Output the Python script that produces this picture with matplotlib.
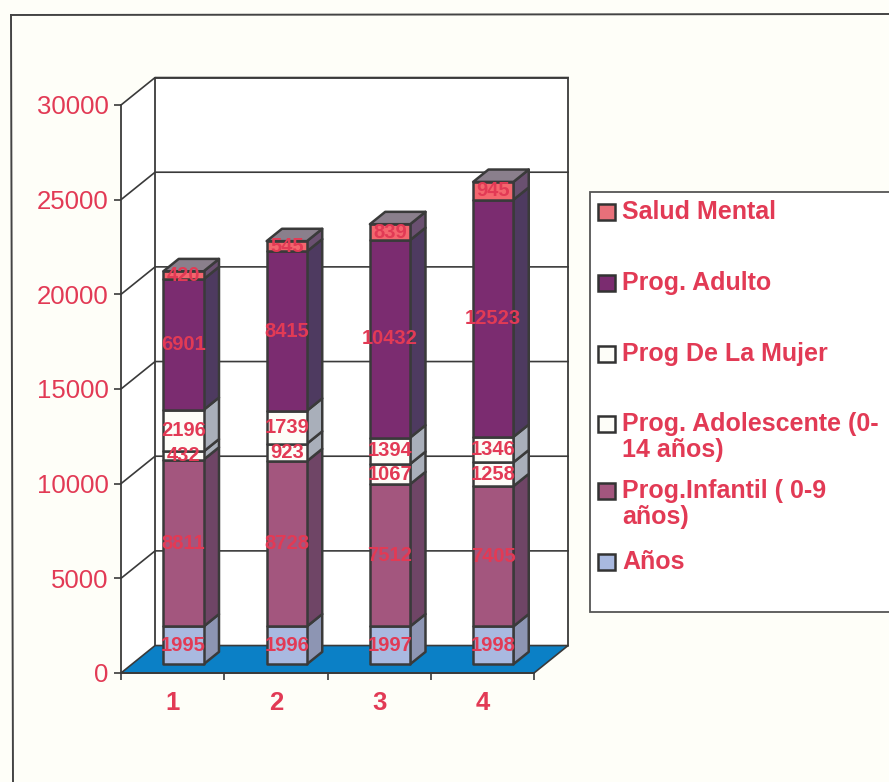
import matplotlib
matplotlib.use('Agg')
import matplotlib.pyplot as plt
from matplotlib.patches import Polygon, Rectangle

categories = ['1', '2', '3', '4']
anos = [1995, 1996, 1997, 1998]
infantil = [8811, 8728, 7512, 7405]
adolescente = [432, 923, 1067, 1258]
mujer = [2196, 1739, 1394, 1346]
adulto = [6901, 8415, 10432, 12523]
salud = [420, 545, 839, 945]
yticks = [0, 5000, 10000, 15000, 20000, 25000, 30000]

series = [anos, infantil, adolescente, mujer, adulto, salud]
front_colors = ['#a9b9e0', '#a3567e', '#fdfdf8', '#fdfdf8', '#7b2c70', '#f4666e']
side_colors = ['#8d95b3', '#6f4566', '#a9afba', '#a9afba', '#4e3a60', '#6a5070']
top_color = '#8a7f8c'
legend_labels = ['Salud Mental', 'Prog. Adulto', 'Prog De La Mujer',
                 'Prog. Adolescente (0-\n14 años)', 'Prog.Infantil ( 0-9\naños)', 'Años']
legend_colors = ['#e8707a', '#7b2c70', '#fdfdf8', '#fdfdf8', '#a3567e', '#a9b9e0']
legend_y = [212, 283, 354, 424, 491, 562]

RED = '#e23a55'
DARK = '#3a3a3a'
BG = '#fefef8'
# depth of the 3d box, in data units
DX = 0.33
DY = 1450
BAR_W = 0.39
BAR_D0 = 0.32
BAR_D1 = 0.77

plt.rcParams['font.family'] = ['Liberation Sans', 'DejaVu Sans']

fig = plt.figure(figsize=(8.89, 7.82), dpi=100, facecolor=BG)
ax = fig.add_axes([121/889, (782-673)/782, 413/889, 568/782], facecolor='none')
ax.set_xlim(0.5, 4.5)
ax.set_ylim(0, 30000)


def proj(x, y, d):
    return (x + d*DX, y + d*DY)


def quad(pts, fc, ec=DARK, lw=1.8, z=2):
    ax.add_patch(Polygon(pts, closed=True, facecolor=fc, edgecolor=ec, linewidth=lw,
                         zorder=z, clip_on=False, joinstyle='round'))


# walls and floor
quad([proj(0.5, 0, 0), proj(0.5, 0, 1), proj(0.5, 30000, 1), proj(0.5, 30000, 0)], '#ffffff', lw=0, z=0)
quad([proj(0.5, 0, 1), proj(4.5, 0, 1), proj(4.5, 30000, 1), proj(0.5, 30000, 1)], '#ffffff', lw=1.3, z=0.5)
quad([proj(0.5, 0, 0), proj(4.5, 0, 0), proj(4.5, 0, 1), proj(0.5, 0, 1)], '#0b80c6', lw=1.2, z=1)
for t in yticks[1:]:
    a, b, c = proj(0.5, t, 0), proj(0.5, t, 1), proj(4.5, t, 1)
    ax.plot([a[0], b[0], c[0]], [a[1], b[1], c[1]], color=DARK, lw=1.2, zorder=1, clip_on=False)

# stacked 3d bars
for i in range(len(categories)):
    x0 = i + 1 - BAR_W/2
    x1 = i + 1 + BAR_W/2
    base = 0
    for vals, fc, sc in zip(series, front_colors, side_colors):
        v = vals[i]
        top = base + v
        quad([proj(x1, base, BAR_D0), proj(x1, base, BAR_D1), proj(x1, top, BAR_D1), proj(x1, top, BAR_D0)], sc, z=3)
        quad([proj(x0, base, BAR_D0), proj(x1, base, BAR_D0), proj(x1, top, BAR_D0), proj(x0, top, BAR_D0)], fc, z=4)
        lx, ly = proj(i + 1, base + v/2, BAR_D0)
        ax.text(lx, ly, str(v), color=RED, fontsize=14.5, fontweight='bold', ha='center', va='center',
                zorder=6, clip_on=False)
        base = top
    quad([proj(x0, base, BAR_D0), proj(x1, base, BAR_D0), proj(x1, base, BAR_D1), proj(x0, base, BAR_D1)],
         top_color, z=5)

# axes
for s in ['top', 'right']:
    ax.spines[s].set_visible(False)
for s in ['left', 'bottom']:
    ax.spines[s].set_color(DARK)
    ax.spines[s].set_linewidth(1.3)
    ax.spines[s].set_zorder(2)
ax.set_yticks(yticks)
ax.set_yticklabels([str(t) for t in yticks], fontsize=18.5, color=RED)
ax.tick_params(axis='y', length=5, width=1.2, color=DARK, pad=4)
ax.set_xticks([0.5, 1.5, 2.5, 3.5, 4.5])
ax.set_xticklabels([])
ax.tick_params(axis='x', which='major', length=5, width=1.2, color=DARK)
ax.set_xticks([1, 2, 3, 4], minor=True)
ax.set_xticklabels(categories, minor=True, fontsize=18.5, fontweight='bold', color=RED)
ax.tick_params(axis='x', which='minor', length=0, pad=13)

# overlay in pixel coordinates for page frame and legend
ov = fig.add_axes([0, 0, 1, 1], facecolor='none')
ov.set_xlim(0, 889)
ov.set_ylim(782, 0)
ov.axis('off')
ov.plot([11, 889], [15, 14], color='#444444', lw=1.4)
ov.plot([11, 13], [15, 782], color='#444444', lw=1.4)
ov.add_patch(Rectangle((590, 192), 305, 420, facecolor='#ffffff', edgecolor='#555555', lw=1.3))
for lab, col, y in zip(legend_labels, legend_colors, legend_y):
    ov.add_patch(Rectangle((598, y-8), 17, 16, facecolor=col, edgecolor='#333333', lw=1.8))
    ov.text(622, y-12, lab, color=RED, fontsize=18, fontweight='bold', va='top', ha='left', linespacing=1.08)

fig.savefig('out.png', dpi=100, facecolor=BG)
